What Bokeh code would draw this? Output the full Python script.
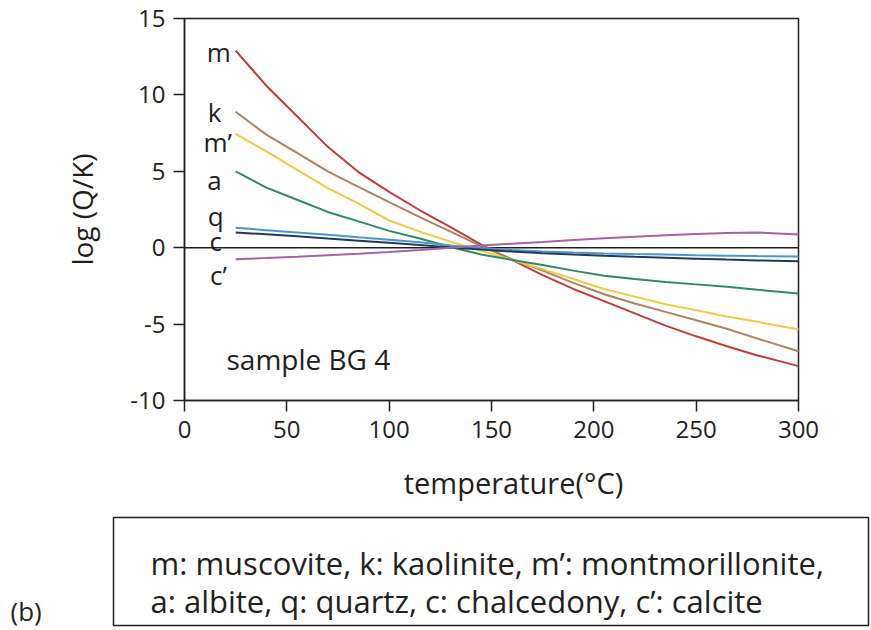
from bokeh.plotting import figure
from bokeh.models import Range1d, FixedTicker, ColumnDataSource, LinearAxis
from bokeh.embed import file_html
from bokeh.resources import INLINE
from bokeh.core.properties import value

# ---- data ----
temperature = [25, 40, 55, 70, 85, 100, 115, 130, 145, 160, 175, 190, 205, 220, 235, 250, 265, 280, 300]
muscovite = [12.9, 10.6, 8.6, 6.6, 4.95, 3.65, 2.45, 1.35, 0.2, -0.8, -1.8, -2.7, -3.5, -4.3, -5.1, -5.8, -6.45, -7.05, -7.75]
kaolinite = [8.9, 7.4, 6.2, 5.0, 3.98, 2.98, 2.0, 1.05, 0.1, -0.75, -1.5, -2.3, -3.05, -3.65, -4.2, -4.75, -5.3, -5.95, -6.78]
montmorillonite = [7.45, 6.3, 5.1, 3.9, 2.88, 1.78, 1.05, 0.4, -0.2, -0.8, -1.4, -2.05, -2.7, -3.2, -3.7, -4.1, -4.5, -4.85, -5.36]
albite = [5.0, 3.93, 3.14, 2.34, 1.72, 1.1, 0.6, 0.05, -0.45, -0.8, -1.13, -1.5, -1.84, -2.05, -2.24, -2.4, -2.56, -2.75, -3.0]
quartz = [1.3, 1.15, 1.0, 0.85, 0.68, 0.52, 0.35, 0.15, -0.02, -0.15, -0.25, -0.32, -0.38, -0.42, -0.45, -0.49, -0.52, -0.55, -0.57]
chalcedony = [1.0, 0.88, 0.75, 0.6, 0.46, 0.32, 0.17, 0.02, -0.12, -0.25, -0.36, -0.45, -0.53, -0.6, -0.66, -0.72, -0.78, -0.83, -0.89]
calcite = [-0.75, -0.68, -0.6, -0.5, -0.4, -0.28, -0.15, 0.0, 0.14, 0.26, 0.37, 0.5, 0.62, 0.72, 0.82, 0.9, 0.97, 0.99, 0.87]

series_names = ["m", "k", "m’", "a", "q", "c", "c’"]
series_values = [muscovite, kaolinite, montmorillonite, albite, quartz, chalcedony, calcite]
series_colors = ["#bc3f3c", "#b0825f", "#ebcb4c", "#2f8a60", "#4f96c6", "#233a5c", "#a3679f"]

# curve label anchors (data units)
label_x = [16.7, 14.7, 16.2, 14.7, 15.2, 15.2, 16.6]
label_y = [12.8, 8.9, 6.95, 4.45, 2.05, 0.45, -1.76]

x_ticks = [0, 50, 100, 150, 200, 250, 300]
y_ticks = [-10, -5, 0, 5, 10, 15]
y_tick_text = {-10: "-10", -5: "-5"}

sample_label = "sample BG 4"
x_label = "temperature(°C)"
y_label = "log (Q/K)"
legend_lines = ["m: muscovite, k: kaolinite, m’: montmorillonite,",
                "a: albite, q: quartz, c: chalcedony, c’: calcite"]
panel_tag = "(b)"

FONT = "Open Sans"
INK = "#231f20"

W, H = 871, 630
FL, FR, FT, FB = 184, 798, 18, 400   # chart box edges in canvas pixels
X0, X1, Y0, Y1 = 0, 300, -10, 15     # axis ranges of the chart box

def fx(px):
    return X0 + (px - FL) * (X1 - X0) / (FR - FL)

def fy(py):
    return Y1 - (py - FT) * (Y1 - Y0) / (FB - FT)

# the frame fills the whole canvas; axes are pinned to the chart box edges
p = figure(width=W, height=H, x_range=Range1d(fx(0), fx(W)), y_range=Range1d(fy(H), fy(0)),
           output_backend="svg", toolbar_location=None, min_border=0,
           x_axis_location=None, y_axis_location=None)
p.outline_line_color = None
p.background_fill_color = "white"
p.border_fill_color = "white"
p.xgrid.grid_line_color = None
p.ygrid.grid_line_color = None

xaxis = LinearAxis(fixed_location=Y0, bounds=(X0, X1), ticker=FixedTicker(ticks=x_ticks))
yaxis = LinearAxis(fixed_location=X0, bounds=(Y0, Y1), ticker=FixedTicker(ticks=y_ticks))
for ax in (xaxis, yaxis):
    ax.axis_line_color = INK
    ax.axis_line_width = 1.5
    ax.major_tick_line_color = INK
    ax.major_tick_line_width = 1.5
    ax.major_tick_in = 0
    ax.major_tick_out = 11
    ax.minor_tick_line_color = None
    ax.major_label_text_font = FONT
    ax.major_label_text_font_size = "24px"
    ax.major_label_text_color = INK
xaxis.major_label_standoff = 9
yaxis.major_label_standoff = 8
yaxis.major_label_overrides = y_tick_text
yaxis.axis_label = y_label
yaxis.axis_label_text_font = FONT
yaxis.axis_label_text_font_size = "28px"
yaxis.axis_label_text_font_style = "normal"
yaxis.axis_label_text_color = INK
yaxis.axis_label_standoff = 26
p.add_layout(xaxis, "below")
p.add_layout(yaxis, "left")

# chart box (top/right edges) and zero reference line
p.quad(left=[X0], right=[X1], bottom=[Y0], top=[Y1], fill_color=None, line_color=INK, line_width=1.5)
p.line(x=[X0, X1], y=[0, 0], line_color=INK, line_width=1.5)

src = ColumnDataSource(dict(T=temperature, **{f"s{i}": v for i, v in enumerate(series_values)}))
for i, col in enumerate(series_colors):
    p.line("T", f"s{i}", source=src, line_color=col, line_width=2)

def txt(xs, ys, texts, size, align="left"):
    p.text(x=xs, y=ys, text=texts, text_font=value(FONT), text_font_size=size,
           text_align=align, text_baseline="alphabetic", text_color=INK)

txt(label_x, label_y, series_names, "26px", "center")
txt([fx(226)], [fy(358)], [sample_label], "28px")

# ---- below the chart: x label, legend box, panel tag ----
txt([fx(513)], [fy(482)], [x_label], "29px", "center")
p.quad(left=[fx(113)], right=[fx(868)], top=[fy(517)], bottom=[fy(625)],
       fill_color=None, line_color=INK, line_width=1.5)
txt([fx(150), fx(150)], [fy(562), fy(600)], legend_lines, "31px")
txt([fx(10)], [fy(610)], [panel_tag], "26px")

open("out.html", "w").write(file_html(p, INLINE))
